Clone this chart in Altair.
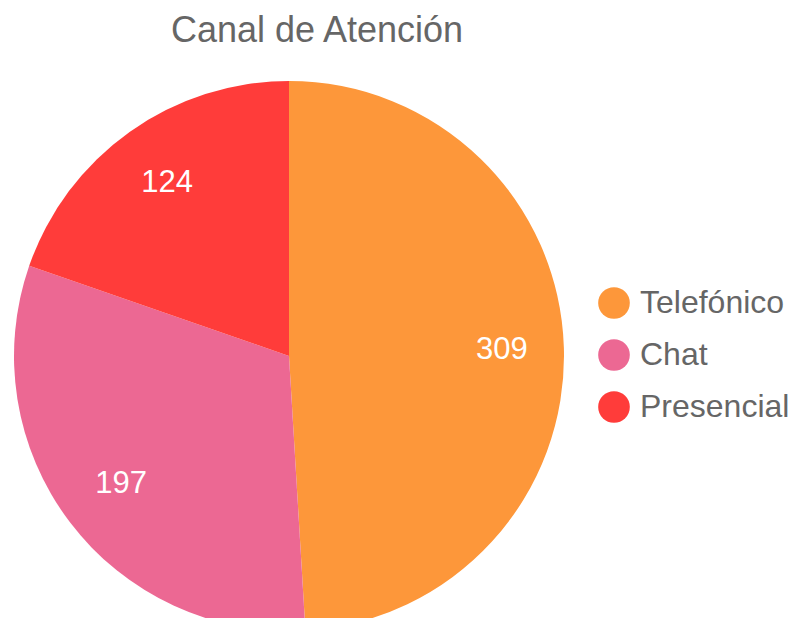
import altair as alt
import pandas as pd

categories = ["Telefónico", "Chat", "Presencial"]
values = [309, 197, 124]
colors = ["#FD973A", "#EC6893", "#FF3C3A"]

df = pd.DataFrame({"canal": categories, "valor": values, "orden": [0, 1, 2]})

cx, cy, R = 281, 348, 275

base = alt.Chart(df).encode(
    theta=alt.Theta("valor:Q", stack=True),
    order=alt.Order("orden:Q"),
)

arc = base.mark_arc(radius=R).encode(
    x=alt.value(cx),
    y=alt.value(cy),
    color=alt.Color(
        "canal:N",
        scale=alt.Scale(domain=categories, range=colors),
        sort=categories,
        legend=alt.Legend(
            title=None,
            orient="none",
            legendX=590,
            legendY=279,
            symbolType="circle",
            symbolSize=1000,
            symbolStrokeWidth=0,
            labelFontSize=32,
            labelFont="Liberation Sans",
            labelColor="#666666",
            labelOffset=10,
            rowPadding=20,
            labelLimit=300,
        ),
    ),
)

labels = base.mark_text(
    radius=212, fontSize=31, font="Liberation Sans", color="white"
).encode(
    x=alt.value(cx + 1),
    y=alt.value(cy),
    text=alt.Text("valor:Q"),
)

title = alt.Chart(pd.DataFrame({"t": ["Canal de Atención"]})).mark_text(
    fontSize=36, font="Liberation Sans", color="#666666", baseline="middle", align="center"
).encode(x=alt.value(309), y=alt.value(23), text="t:N")

chart = alt.layer(arc, labels, title).properties(
    width=782, height=610, padding=0, autosize=alt.AutoSizeParams(type="none")
).configure_view(stroke=None)

chart.save("out.html", embed_options={"renderer": "svg", "actions": False})
